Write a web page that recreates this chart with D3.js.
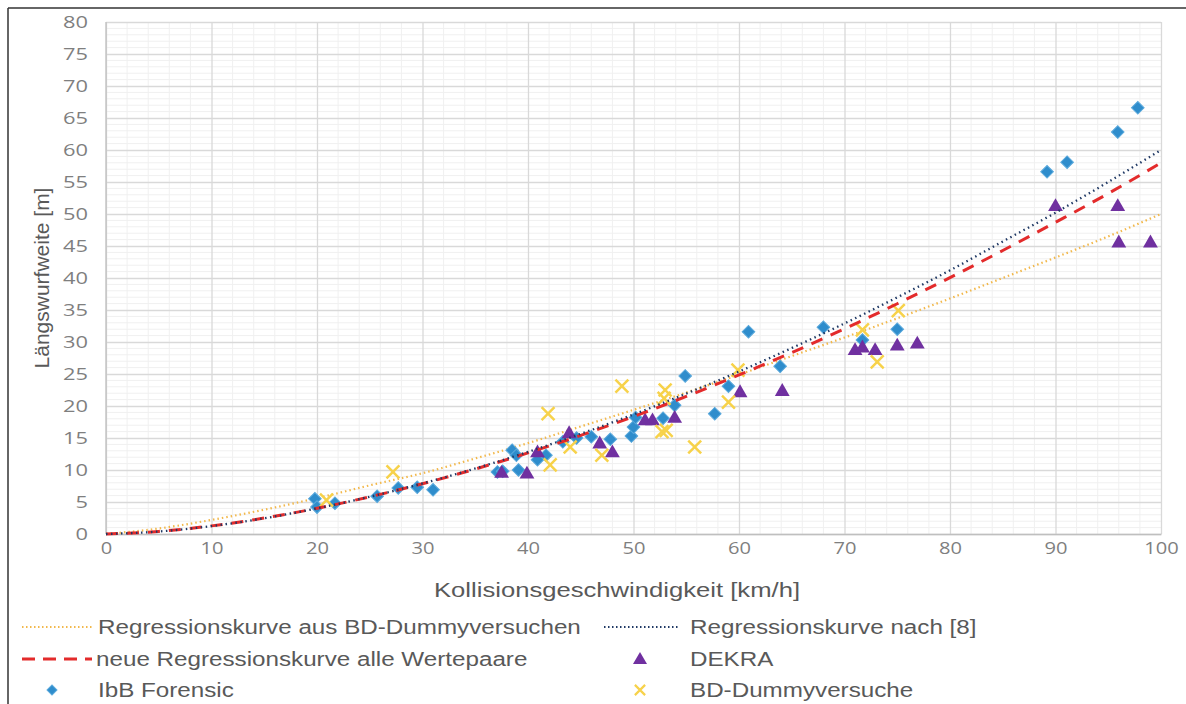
<!DOCTYPE html>
<html><head><meta charset="utf-8">
<script src="https://cdn.jsdelivr.net/npm/d3@7"></script>
<style>
html,body{margin:0;padding:0;background:#fff;}
svg{display:block;}
</style></head>
<body>
<script>
// ---------- data ----------
const xTicks = [0,10,20,30,40,50,60,70,80,90,100];
const yTicks = [0,5,10,15,20,25,30,35,40,45,50,55,60,65,70,75,80];

const curveX = [0,5,10,15,20,25,30,35,40,45,50,55,60,65,70,75,80,85,90,95,100];
const bdRegression   = [0,0.86,2.2,3.8,5.6,7.6,9.5,11.8,14.2,16.8,19.4,22.1,24.9,27.8,30.7,33.7,36.8,40.0,43.2,46.5,50.0];
const regNach8       = [0,0.39,1.24,2.46,4.0,5.82,7.9,10.24,12.83,15.66,18.68,21.94,25.38,29.06,32.9,36.97,41.2,45.7,50.2,55.0,60.0];
const neueRegression = [0,0.40,1.27,2.49,4.01,5.81,7.86,10.15,12.67,15.41,18.35,21.5,24.85,28.35,32.06,35.98,40.06,44.3,48.7,53.2,58.0];

const ibbX = [19.8,20.0,21.7,25.7,27.7,29.5,31.0,37.1,37.6,38.5,38.9,39.1,40.9,41.7,43.3,44.6,46.0,47.8,49.8,50.0,50.2,52.8,53.9,54.9,57.7,59.0,60.9,63.9,68.0,71.7,75.0,89.2,91.1,95.9,97.8];
const ibbY = [5.5,4.2,4.8,5.9,7.2,7.3,6.9,9.7,9.8,13.1,12.3,10.0,11.6,12.3,14.4,15.0,15.2,14.8,15.3,16.7,18.2,18.1,20.1,24.7,18.8,23.1,31.6,26.2,32.3,30.3,32.0,56.6,58.1,62.8,66.6];

const dekraX = [37.5,39.9,40.9,43.9,46.8,48.0,51.1,51.8,53.9,60.1,64.1,71.0,71.7,72.9,75.0,76.9,90.0,95.9,96.0,99.0];
const dekraY = [9.6,9.5,12.8,15.8,14.2,12.8,17.8,17.8,18.2,22.2,22.4,28.8,29.2,28.8,29.5,29.8,51.3,51.3,45.6,45.6];

const bdX = [20.9,27.2,41.9,42.1,44.0,47.0,48.9,52.7,53.1,53.0,52.9,55.8,59.0,59.9,71.7,73.1,75.1];
const bdY = [5.3,9.7,18.8,10.8,13.6,12.3,23.1,16.0,16.2,22.5,21.2,13.6,20.6,25.6,31.9,26.9,34.9];

const legendLabels = ["Regressionskurve aus BD-Dummyversuchen","Regressionskurve nach [8]","neue Regressionskurve alle Wertepaare","DEKRA","IbB Forensic","BD-Dummyversuche"];

// ---------- setup ----------
const W = 1186, H = 704;
const svg = d3.select("body").append("svg").attr("width",W).attr("height",H);

const x = d3.scaleLinear().domain([0,100]).range([106,1161]);
const y = d3.scaleLinear().domain([0,80]).range([534,22]);

const cBlue = "#2f8dcc", cPurple = "#7030a0", cYellow = "#f7d24a",
      cRed = "#e32b2b", cNavy = "#1f3864", cYelLine = "#f2b84b";
const tickFont = "'Open Sans', 'Liberation Sans', sans-serif";
const textFont = "'Liberation Sans', Arial, sans-serif";
const stretch = 1.21;
function widen(sel){
  sel.each(function(){
    const w = this.getComputedTextLength();
    d3.select(this).attr("textLength", w*stretch).attr("lengthAdjust","spacingAndGlyphs");
  });
}

// frame
svg.append("line").attr("x1",8).attr("x2",W).attr("y1",8).attr("y2",8).attr("stroke","#333").attr("stroke-width",1.5);
svg.append("line").attr("x1",8).attr("x2",8).attr("y1",8).attr("y2",H).attr("stroke","#333").attr("stroke-width",1.5);

// minor grid
const g = svg.append("g");
g.selectAll(".mx").data(d3.range(0,101,2).filter(v=>v%10!==0)).join("line")
  .attr("x1",d=>x(d)).attr("x2",d=>x(d)).attr("y1",y(80)).attr("y2",y(0))
  .attr("stroke","#f0f0f0").attr("stroke-width",1);
g.selectAll(".my").data(d3.range(0,81,1).filter(v=>v%5!==0)).join("line")
  .attr("x1",x(0)).attr("x2",x(100)).attr("y1",d=>y(d)).attr("y2",d=>y(d))
  .attr("stroke","#f0f0f0").attr("stroke-width",1);

// major grid via axes
const yGrid = svg.append("g").attr("transform",`translate(${x(0)},0)`)
  .call(d3.axisLeft(y).tickValues(yTicks).tickSize(-(x(100)-x(0))).tickFormat(""));
yGrid.select(".domain").remove();
yGrid.selectAll("line").attr("stroke","#d9d9d9").attr("stroke-width",1.3);
const xGrid = svg.append("g").attr("transform",`translate(0,${y(0)})`)
  .call(d3.axisBottom(x).tickValues(xTicks).tickSize(-(y(0)-y(80))).tickFormat(""));
xGrid.select(".domain").remove();
xGrid.selectAll("line").attr("stroke","#d9d9d9").attr("stroke-width",1.3);

// axes labels
const yAx = svg.append("g").attr("transform",`translate(${x(0)},0)`)
  .call(d3.axisLeft(y).tickValues(yTicks).tickSize(0).tickPadding(18));
yAx.select(".domain").remove();
yAx.selectAll("text").attr("font-family",tickFont).attr("font-size",17).attr("fill","#7f7f7f")
  .attr("textLength",d=>String(d).length*12.5).attr("lengthAdjust","spacingAndGlyphs");
const xAx = svg.append("g").attr("transform",`translate(0,${y(0)})`)
  .call(d3.axisBottom(x).tickValues(xTicks).tickSize(0).tickPadding(8));
xAx.select(".domain").attr("stroke","#bfbfbf").attr("stroke-width",1.3);
xAx.selectAll("text").attr("font-family",tickFont).attr("font-size",17).attr("fill","#7f7f7f")
  .attr("textLength",d=>String(d).length*11.5).attr("lengthAdjust","spacingAndGlyphs");
svg.append("line").attr("x1",x(0)).attr("x2",x(0)).attr("y1",y(80)).attr("y2",y(0)).attr("stroke","#bfbfbf").attr("stroke-width",1.3);

svg.append("text").attr("x",434).attr("y",597)
  .attr("font-family",textFont).attr("font-size",20).attr("fill","#595959")
  .attr("textLength",366).attr("lengthAdjust","spacingAndGlyphs")
  .text("Kollisionsgeschwindigkeit [km/h]");
svg.append("text").attr("transform",`translate(49,${(y(0)+y(80))/2}) rotate(-90)`).attr("text-anchor","middle")
  .attr("font-family",textFont).attr("font-size",21).attr("fill","#595959")
  .text("Längswurfweite [m]");

// curves
const line = d3.line().x(d=>x(d[0])).y(d=>y(d[1])).curve(d3.curveMonotoneX);
const plot = svg.append("g");
plot.append("path").datum(curveX.map((v,i)=>[v,bdRegression[i]])).attr("d",line)
  .attr("fill","none").attr("stroke",cYelLine).attr("stroke-width",2.2).attr("stroke-dasharray","1.5 3");

// markers
plot.selectAll(".ibb").data(ibbX.map((v,i)=>[v,ibbY[i]])).join("path")
  .attr("d",d3.symbol().type(d3.symbolSquare).size(80))
  .attr("transform",d=>`translate(${x(d[0])},${y(d[1])}) rotate(45)`)
  .attr("fill",cBlue).attr("stroke","#5aa9dc").attr("stroke-width",1);
plot.selectAll(".dek").data(dekraX.map((v,i)=>[v,dekraY[i]])).join("path")
  .attr("transform",d=>`translate(${x(d[0])},${y(d[1])+1})`)
  .attr("d",d3.symbol().type(d3.symbolTriangle).size(95))
  .attr("fill",cPurple);
const cross = d3.symbol().type(d3.symbolX || d3.symbolCross).size(110);
plot.selectAll(".bd").data(bdX.map((v,i)=>[v,bdY[i]])).join("path")
  .attr("transform",d=>`translate(${x(d[0])},${y(d[1])})`)
  .attr("d",cross).attr("fill","none").attr("stroke",cYellow).attr("stroke-width",2.5);

plot.append("path").datum(curveX.map((v,i)=>[v,neueRegression[i]])).attr("d",line)
  .attr("fill","none").attr("stroke",cRed).attr("stroke-width",3).attr("stroke-dasharray","12 9");
plot.append("path").datum(curveX.map((v,i)=>[v,regNach8[i]])).attr("d",line)
  .attr("fill","none").attr("stroke",cNavy).attr("stroke-width",2.3).attr("stroke-dasharray","1.5 3.5");

// legend
const lg = svg.append("g");
const rows = [627, 659, 690];
function ltext(xp, yp, i){
  lg.append("text").attr("x",xp).attr("y",yp).attr("dy","0.36em")
    .attr("font-family",textFont).attr("font-size",20).attr("fill","#595959")
    .text(legendLabels[i]).call(widen);
}
lg.append("line").attr("x1",22).attr("x2",92).attr("y1",rows[0]).attr("y2",rows[0])
  .attr("stroke",cYelLine).attr("stroke-width",2).attr("stroke-dasharray","1.5 2.5");
ltext(98, rows[0], 0);
lg.append("line").attr("x1",604).attr("x2",680).attr("y1",rows[0]).attr("y2",rows[0])
  .attr("stroke",cNavy).attr("stroke-width",2).attr("stroke-dasharray","1.5 2.5");
ltext(690, rows[0], 1);
lg.append("line").attr("x1",22).attr("x2",92).attr("y1",rows[1]).attr("y2",rows[1])
  .attr("stroke",cRed).attr("stroke-width",3).attr("stroke-dasharray","13 8");
ltext(96, rows[1], 2);
lg.append("path").attr("transform",`translate(640,${rows[1]+1})`)
  .attr("d",d3.symbol().type(d3.symbolTriangle).size(85)).attr("fill",cPurple);
ltext(690, rows[1], 3);
lg.append("path").attr("transform",`translate(52,${rows[2]}) rotate(45)`)
  .attr("d",d3.symbol().type(d3.symbolSquare).size(50)).attr("fill",cBlue).attr("stroke","#5aa9dc");
ltext(98, rows[2], 4);
lg.append("path").attr("transform",`translate(640,${rows[2]})`)
  .attr("d",d3.symbol().type(d3.symbolX || d3.symbolCross).size(70)).attr("fill","none").attr("stroke",cYellow).attr("stroke-width",2.2);
ltext(690, rows[2], 5);
</script>
</body></html>
